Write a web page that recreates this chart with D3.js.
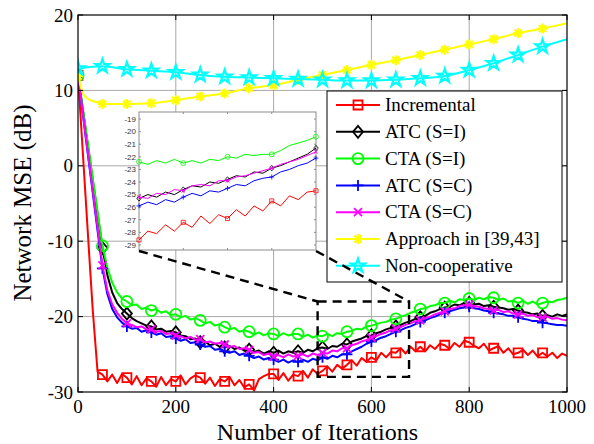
<!DOCTYPE html>
<html>
<head>
<meta charset="utf-8">
<style>
  body { margin: 0; background: #fff; }
  svg text { font-family: "Liberation Serif", "Times New Roman", serif; fill: #000; }
  .inset text { font-family: "Liberation Sans", Arial, sans-serif; fill: #333; }
</style>
</head>
<body>
<script src="https://d3js.org/d3.v7.min.js"></script>
<script>
// ---- data ----
var iters = d3.range(0, 1001, 10);   // iteration index, step 10

var incremental = [
  12, 1.6, -8.8, -19.0, -27.3, -27.7, -28.6, -27.7, -28.8, -27.6,
  -28.1, -29.0, -27.9, -29.1, -28.2, -28.6, -29.3, -28.0, -29.1, -28.3,
  -28.6, -27.8, -29.0, -28.2, -27.8, -28.1, -28.9, -28.1, -29.2, -28.3,
  -28.6, -28.0, -29.1, -28.4, -29.4, -29.0, -29.8, -28.3, -27.9, -27.6,
  -27.6, -28.4, -27.5, -28.5, -27.7, -27.9, -27.2, -28.1, -27.0, -27.6,
  -27.2, -26.6, -27.3, -26.4, -26.9, -26.4, -25.8, -26.5, -25.5, -26.0,
  -25.4, -25.8, -24.8, -25.4, -24.7, -24.8, -24.2, -24.9, -24.0, -24.6,
  -24.0, -24.6, -23.8, -24.3, -23.6, -23.8, -24.3, -23.5, -24.0, -23.2,
  -23.4, -23.9, -24.2, -23.6, -24.5, -24.2, -23.9, -24.8, -24.2, -25.0,
  -24.8, -24.4, -25.1, -24.5, -25.3, -24.8, -25.3, -24.8, -25.5, -24.9,
  -25.2
];
var atcI = [
  12, 7.4, 2.8, -1.8, -6.4, -10.9, -14.5, -16.8, -18.2, -19.0,
  -19.6, -20.2, -20.6, -20.9, -21.2, -21.3, -21.7, -21.6, -22.0, -21.9,
  -22.1, -22.5, -22.6, -23.0, -22.9, -23.4, -23.3, -23.8, -23.6, -24.0,
  -24.1, -23.9, -24.3, -24.1, -24.5, -24.4, -24.7, -24.5, -24.9, -24.6,
  -24.8, -24.5, -24.9, -24.6, -24.8, -24.6, -24.8, -24.4, -24.6, -24.2,
  -24.1, -24.3, -23.9, -24.0, -23.6, -23.7, -23.3, -23.1, -22.9, -22.6,
  -22.5, -22.2, -22.0, -21.7, -21.5, -21.3, -21.1, -20.8, -20.6, -20.3,
  -20.1, -19.9, -19.5, -19.3, -19.0, -18.8, -18.7, -18.4, -18.5, -18.2,
  -18.2, -18.4, -18.3, -18.6, -18.5, -18.7, -18.8, -18.9, -19.1, -19.0,
  -19.2, -19.4, -19.5, -19.7, -19.6, -19.9, -19.8, -20.0, -19.7, -19.9,
  -19.7
];
var ctaI = [
  12, 7.5, 3.0, -1.6, -6.1, -10.6, -13.5, -15.5, -16.8, -17.6,
  -18.0, -18.5, -18.4, -19.0, -18.8, -19.2, -19.0, -19.5, -19.3, -19.8,
  -19.7, -20.1, -19.9, -20.4, -20.2, -20.5, -20.9, -20.7, -21.2, -21.0,
  -21.4, -21.7, -21.5, -22.0, -21.8, -22.0, -22.4, -22.1, -22.5, -22.2,
  -22.3, -22.6, -22.2, -22.5, -22.3, -22.3, -22.7, -22.4, -22.8, -22.5,
  -22.6, -22.3, -22.6, -22.2, -22.3, -22.0, -21.9, -21.6, -21.7, -21.3,
  -21.2, -21.0, -20.8, -20.7, -20.4, -20.3, -20.0, -19.8, -19.5, -19.3,
  -19.0, -18.9, -18.6, -18.5, -18.2, -18.2, -17.9, -18.1, -17.7, -17.8,
  -17.6, -17.8, -17.5, -17.7, -17.4, -17.5, -17.8, -17.6, -18.0, -17.9,
  -18.2, -17.9, -18.3, -18.0, -18.4, -18.2, -18.0, -18.1, -17.8, -17.7,
  -17.5
];
var atcC = [
  12, 6.8, 1.6, -3.5, -8.6, -13.6, -17.0, -19.0, -20.1, -20.8,
  -21.3, -21.6, -21.5, -22.0, -21.8, -22.1, -22.4, -22.2, -22.7, -22.6,
  -22.9, -23.2, -23.0, -23.5, -23.4, -23.7, -24.0, -23.9, -24.4, -24.3,
  -24.6, -24.8, -24.6, -25.1, -24.9, -25.2, -25.5, -25.3, -25.7, -25.5,
  -25.7, -26.0, -25.7, -26.1, -25.8, -26.0, -25.7, -26.0, -25.6, -25.8,
  -25.4, -25.6, -25.2, -25.4, -25.0, -25.0, -24.6, -24.3, -24.0, -23.6,
  -23.3, -23.1, -22.8, -22.6, -22.3, -22.0, -21.8, -21.5, -21.3, -21.0,
  -20.7, -20.5, -20.2, -20.0, -19.7, -19.5, -19.3, -19.1, -18.9, -18.8,
  -18.7, -18.9, -19.0, -19.2, -19.3, -19.5, -19.6, -19.7, -19.9, -19.9,
  -20.1, -20.3, -20.4, -20.6, -20.6, -20.8, -20.9, -21.0, -21.1, -21.1,
  -21.2
];
var ctaC = [
  12, 6.9, 1.8, -3.2, -8.2, -13.2, -16.5, -18.4, -19.5, -20.3,
  -20.9, -21.1, -21.4, -21.3, -21.7, -21.7, -22.0, -21.9, -22.3, -22.2,
  -22.5, -22.6, -22.9, -22.7, -23.1, -23.0, -23.4, -23.3, -23.6, -23.5,
  -23.7, -24.0, -23.9, -24.3, -24.2, -24.4, -24.8, -24.7, -25.1, -24.9,
  -25.3, -25.1, -25.4, -25.0, -25.3, -25.2, -25.0, -25.3, -24.9, -25.1,
  -24.8, -24.9, -24.5, -24.6, -24.2, -24.2, -23.8, -23.6, -23.3, -23.1,
  -22.8, -22.6, -22.3, -22.1, -21.8, -21.6, -21.4, -21.1, -20.9, -20.6,
  -20.5, -20.2, -20.0, -19.7, -19.5, -19.3, -19.0, -18.9, -18.6, -18.5,
  -18.4, -18.6, -18.7, -18.9, -19.0, -19.2, -19.1, -19.4, -19.3, -19.6,
  -19.7, -19.6, -19.9, -19.8, -20.1, -20.1, -20.0, -20.3, -20.2, -20.4,
  -20.5
];

// smooth curves, sampled more coarsely
var apprIters = [0, 10, 20, 30, 40, 50, 100, 150, 200, 250, 300, 350, 400, 450, 500,
                 550, 600, 650, 700, 750, 800, 850, 900, 950, 1000];
var approach = [11.9, 9.6, 8.9, 8.6, 8.4, 8.2, 8.2, 8.3, 8.7, 9.2, 9.6, 10.3, 10.7, 11.4, 12.05,
                12.7, 13.4, 14.0, 14.7, 15.4, 16.1, 16.8, 17.6, 18.2, 18.9];
var ncIters = [0, 50, 100, 150, 200, 250, 300, 350, 400, 450, 500,
               550, 600, 650, 700, 750, 800, 850, 900, 950, 1000];
var nonCoop = [12.9, 13.2, 12.8, 12.6, 12.4, 12.05, 11.8, 11.7, 11.6, 11.5, 11.4,
               11.3, 11.3, 11.4, 11.6, 11.9, 12.7, 13.6, 14.7, 15.8, 16.8];

// inset (zoomed run, iterations 500..700)
var insetIters = [500, 510, 520, 530, 540, 550, 560, 570, 580, 590, 600,
                  610, 620, 630, 640, 650, 660, 670, 680, 690, 700];
var insetInc  = [-28.6, -27.9, -28.1, -27.4, -27.9, -27.2, -27.6, -26.7, -27.3, -26.6, -26.9,
                 -26.2, -26.7, -25.9, -26.3, -25.5, -25.9, -25.1, -25.4, -24.8, -24.7];
var insetAtcI = [-25.3, -25.0, -25.2, -24.8, -25.0, -24.6, -24.3, -24.4, -24.0, -24.1, -23.8,
                 -23.5, -23.6, -23.2, -23.3, -22.9, -22.7, -22.4, -22.1, -21.8, -21.3];
var insetCtaI = [-22.4, -22.6, -22.3, -22.5, -22.2, -22.5, -22.3, -22.5, -22.2, -22.3, -22.0,
                 -22.1, -21.8, -21.9, -21.8, -21.8, -21.5, -21.1, -20.9, -20.7, -20.4];
var insetAtcC = [-25.9, -25.6, -25.8, -25.4, -25.6, -25.2, -24.9, -25.1, -24.7, -24.8, -24.5,
                 -24.2, -24.3, -23.9, -23.7, -23.6, -23.2, -23.0, -22.7, -22.5, -22.1];
var insetCtaC = [-25.2, -25.3, -24.9, -25.0, -24.6, -24.7, -24.3, -24.2, -24.3, -23.9, -23.9,
                 -23.6, -23.5, -23.3, -23.1, -22.9, -22.6, -22.4, -22.2, -21.9, -21.6];

var labels = ["Incremental", "ATC (S=I)", "CTA (S=I)", "ATC (S=C)", "CTA (S=C)",
              "Approach in [39,43]", "Non-cooperative"];
var colors = ["#ff0000", "#000000", "#00ff00", "#0000ff", "#ff00ff", "#ffff00", "#00ffff"];
var markers = ["square", "diamond", "circle", "plus", "cross", "asterisk", "star"];
var xTicks = [0, 200, 400, 600, 800, 1000];
var yTicks = [-30, -20, -10, 0, 10, 20];
var insetYTicks = [-19, -20, -21, -22, -23, -24, -25, -26, -27, -28, -29];

// ---- setup ----
var W = 594, H = 444;
var L = 78, R = 567, T = 15, B = 392;

var svg = d3.select("body").append("svg").attr("width", W).attr("height", H);

var x = d3.scaleLinear().domain([0, 1000]).range([L, R]);
var y = d3.scaleLinear().domain([-30, 20]).range([B, T]);

function markerPath(type, s) {
  var p = d3.path();
  if (type == "square") {
    p.rect(-4.5 * s, -4.5 * s, 9 * s, 9 * s);
  } else if (type == "diamond") {
    p.moveTo(0, -6 * s); p.lineTo(5 * s, 0); p.lineTo(0, 6 * s); p.lineTo(-5 * s, 0); p.closePath();
  } else if (type == "circle") {
    p.moveTo(5.5 * s, 0); p.arc(0, 0, 5.5 * s, 0, 2 * Math.PI);
  } else if (type == "plus") {
    p.moveTo(-5.5 * s, 0); p.lineTo(5.5 * s, 0); p.moveTo(0, -5.5 * s); p.lineTo(0, 5.5 * s);
  } else if (type == "cross") {
    p.moveTo(-4 * s, -4 * s); p.lineTo(4 * s, 4 * s); p.moveTo(-4 * s, 4 * s); p.lineTo(4 * s, -4 * s);
  } else if (type == "asterisk") {
    p.moveTo(-5 * s, 0); p.lineTo(5 * s, 0); p.moveTo(0, -5 * s); p.lineTo(0, 5 * s);
    p.moveTo(-3.6 * s, -3.6 * s); p.lineTo(3.6 * s, 3.6 * s); p.moveTo(-3.6 * s, 3.6 * s); p.lineTo(3.6 * s, -3.6 * s);
  } else if (type == "star") {
    return d3.symbol().type(d3.symbolStar).size(60 * s * s)();
  }
  return p.toString();
}
function markerWidth(type) {
  if (type == "star") return 2.2;
  if (type == "asterisk") return 2.2;
  return 1.8;
}

// clip for plot area
svg.append("clipPath").attr("id", "plotclip")
  .append("rect").attr("x", L).attr("y", T).attr("width", R - L).attr("height", B - T);

// grid
var grid = svg.append("g");
grid.selectAll("line.gx").data(xTicks.slice(1, -1)).enter().append("line")
  .attr("x1", d => x(d)).attr("x2", d => x(d)).attr("y1", T).attr("y2", B)
  .attr("stroke", "#a8a8a8").attr("stroke-width", 1);
grid.selectAll("line.gy").data(yTicks.slice(1, -1)).enter().append("line")
  .attr("x1", L).attr("x2", R).attr("y1", d => y(d)).attr("y2", d => y(d))
  .attr("stroke", "#a8a8a8").attr("stroke-width", 1);

// series
var series = [
  {xs: iters, ys: incremental, curve: d3.curveLinear},
  {xs: iters, ys: atcI, curve: d3.curveLinear},
  {xs: iters, ys: ctaI, curve: d3.curveLinear},
  {xs: iters, ys: atcC, curve: d3.curveLinear},
  {xs: iters, ys: ctaC, curve: d3.curveLinear},
  {xs: apprIters, ys: approach, curve: d3.curveMonotoneX},
  {xs: ncIters, ys: nonCoop, curve: d3.curveMonotoneX}
];

var plot = svg.append("g").attr("clip-path", "url(#plotclip)");
series.forEach(function(s, k) {
  var pts = s.xs.map((v, i) => [v, s.ys[i]]);
  plot.append("path")
    .attr("d", d3.line().x(d => x(d[0])).y(d => y(d[1])).curve(s.curve)(pts))
    .attr("fill", "none").attr("stroke", colors[k]).attr("stroke-width", 2)
    .attr("stroke-linejoin", "round");
  plot.selectAll(null).data(pts.filter(d => d[0] % 50 == 0 && d[0] < 1000)).enter()
    .append("path")
    .attr("transform", d => "translate(" + x(d[0]) + "," + y(d[1]) + ")")
    .attr("d", markerPath(markers[k], 1))
    .attr("fill", "none").attr("stroke", colors[k]).attr("stroke-width", markerWidth(markers[k]));
});

// axes box + inward ticks
var axes = svg.append("g");
axes.append("rect").attr("x", L).attr("y", T).attr("width", R - L).attr("height", B - T)
  .attr("fill", "none").attr("stroke", "#000").attr("stroke-width", 1.2);
xTicks.forEach(function(t) {
  axes.append("line").attr("x1", x(t)).attr("x2", x(t)).attr("y1", B).attr("y2", B - 5).attr("stroke", "#000");
  axes.append("line").attr("x1", x(t)).attr("x2", x(t)).attr("y1", T).attr("y2", T + 5).attr("stroke", "#000");
  axes.append("text").attr("x", x(t)).attr("y", B + 21).attr("text-anchor", "middle")
    .attr("font-size", 19).text(t);
});
yTicks.forEach(function(t) {
  axes.append("line").attr("x1", L).attr("x2", L + 5).attr("y1", y(t)).attr("y2", y(t)).attr("stroke", "#000");
  axes.append("line").attr("x1", R).attr("x2", R - 5).attr("y1", y(t)).attr("y2", y(t)).attr("stroke", "#000");
  axes.append("text").attr("x", L - 5).attr("y", y(t)).attr("dy", "0.35em").attr("text-anchor", "end")
    .attr("font-size", 19).text(t);
});
axes.append("text").attr("x", (L + R) / 2 - 5).attr("y", 440).attr("text-anchor", "middle")
  .attr("font-size", 24).text("Number of Iterations");
axes.append("text").attr("transform", "translate(31," + 203 + ") rotate(-90)")
  .attr("text-anchor", "middle").attr("font-size", 25).text("Network MSE (dB)");

// inset
var iL = 139, iR = 316, iT = 112, iB = 250;
var xi = d3.scaleLinear().domain([500, 700]).range([iL, iR]);
var yi = d3.scaleLinear().domain([-29.4, -18.44]).range([iB, iT]);
var inset = svg.append("g").attr("class", "inset");
inset.append("rect").attr("x", iL).attr("y", iT).attr("width", iR - iL).attr("height", iB - iT)
  .attr("fill", "#fff").attr("stroke", "#8c8c8c").attr("stroke-width", 1);
insetYTicks.forEach(function(t) {
  inset.append("line").attr("x1", iL).attr("x2", iL + 2).attr("y1", yi(t)).attr("y2", yi(t)).attr("stroke", "#8c8c8c");
  inset.append("line").attr("x1", iR).attr("x2", iR - 2).attr("y1", yi(t)).attr("y2", yi(t)).attr("stroke", "#8c8c8c");
  inset.append("text").attr("x", iL - 3).attr("y", yi(t)).attr("dy", "0.35em").attr("text-anchor", "end")
    .attr("font-size", 8).text(t);
});
[550, 600, 650].forEach(function(t) {
  inset.append("line").attr("x1", xi(t)).attr("x2", xi(t)).attr("y1", iB).attr("y2", iB - 2).attr("stroke", "#8c8c8c");
  inset.append("line").attr("x1", xi(t)).attr("x2", xi(t)).attr("y1", iT).attr("y2", iT + 2).attr("stroke", "#8c8c8c");
});
var insetSeries = [insetInc, insetAtcI, insetCtaI, insetAtcC, insetCtaC];
insetSeries.forEach(function(ys, k) {
  var pts = insetIters.map((v, i) => [v, ys[i]]);
  inset.append("path")
    .attr("d", d3.line().x(d => xi(d[0])).y(d => yi(d[1]))(pts))
    .attr("fill", "none").attr("stroke", colors[k]).attr("stroke-width", 1);
  inset.selectAll(null).data(pts.filter(d => d[0] % 50 == 0)).enter().append("path")
    .attr("transform", d => "translate(" + xi(d[0]) + "," + yi(d[1]) + ")")
    .attr("d", markerPath(markers[k], 0.45))
    .attr("fill", "none").attr("stroke", colors[k]).attr("stroke-width", 0.8);
});

// legend
var lgX = 327, lgY = 91, lgW = 235, lgH = 191;
var legend = svg.append("g");
legend.append("rect").attr("x", lgX).attr("y", lgY).attr("width", lgW).attr("height", lgH)
  .attr("fill", "#fff").attr("stroke", "#000").attr("stroke-width", 1);
labels.forEach(function(lab, k) {
  var ly = 105 + k * 26.8;
  legend.append("line").attr("x1", 336).attr("x2", 380).attr("y1", ly).attr("y2", ly)
    .attr("stroke", colors[k]).attr("stroke-width", 2);
  legend.append("path").attr("transform", "translate(358," + ly + ")")
    .attr("d", markerPath(markers[k], 1))
    .attr("fill", "none").attr("stroke", colors[k]).attr("stroke-width", markerWidth(markers[k]));
  legend.append("text").attr("x", 385).attr("y", ly).attr("dy", "0.33em")
    .attr("font-size", 19).text(lab);
});

// zoom box and connectors
var zoomBox = {x0: 490, x1: 677, y0: -18, y1: -28};
var dash = svg.append("g").attr("stroke", "#000").attr("stroke-width", 2.4)
  .attr("stroke-dasharray", "9,6").attr("fill", "none");
dash.append("rect").attr("x", x(zoomBox.x0)).attr("y", y(zoomBox.y0))
  .attr("width", x(zoomBox.x1) - x(zoomBox.x0)).attr("height", y(zoomBox.y1) - y(zoomBox.y0));
dash.append("line").attr("x1", iL).attr("y1", iB + 1).attr("x2", x(zoomBox.x0)).attr("y2", y(zoomBox.y0));
dash.append("line").attr("x1", iR).attr("y1", iB + 1).attr("x2", x(zoomBox.x1)).attr("y2", y(zoomBox.y0));
</script>
</body>
</html>
